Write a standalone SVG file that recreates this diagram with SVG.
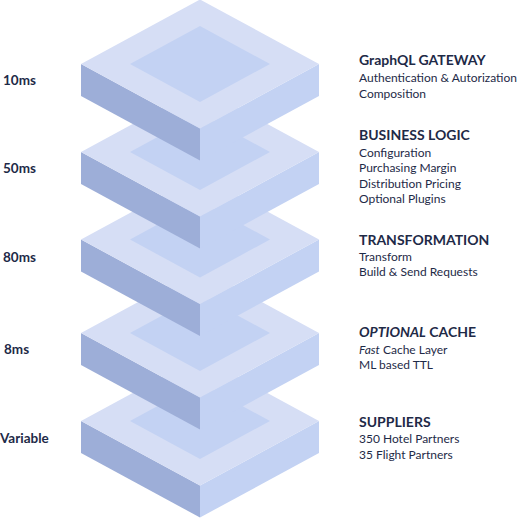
<svg xmlns="http://www.w3.org/2000/svg" xmlns:xlink="http://www.w3.org/1999/xlink" width="517" height="518" viewBox="0 0 517 518">
<style>
.ring{fill:#D6DEF5}
.inner{fill:#C3D2F3}
.left{fill:#9DAED8}
.right{fill:#C3D2F3}
text{font-family:Lato,"Noto Sans","Liberation Sans",sans-serif;fill:#1E2A47}
.t{font-size:14px;font-weight:700}
.s{font-size:12px}
.ms{font-size:13.5px;font-weight:700}
</style>
<defs>
<g id="slab">
<polygon class="left" points="81,0 200,64.5 200,96.5 81,32"/>
<polygon class="right" points="200,64.5 319,0 319,32 200,96.5"/>
<polygon class="ring" points="200,-64.5 319,0 200,64.5 81,0"/>
<polygon class="inner" points="200,-38 270,0 200,38 130,0"/>
</g>
</defs>
<rect width="517" height="518" fill="#FFFFFF"/>
<g id="suppliers">
<use xlink:href="#slab" href="#slab" y="421"/>
<text class="ms" x="0" y="443">Variable</text>
<text class="t" x="359" y="427">SUPPLIERS</text>
<text class="s" x="359" y="443">350 Hotel Partners</text>
<text class="s" x="359" y="459">35 Flight Partners</text>
</g>
<g id="cache">
<use xlink:href="#slab" href="#slab" y="333"/>
<text class="ms" x="4" y="354">8ms</text>
<text class="t" x="359" y="337"><tspan font-style="italic">OPTIONAL</tspan> CACHE</text>
<text class="s" x="359" y="354"><tspan font-style="italic">Fast</tspan> Cache Layer</text>
<text class="s" x="359" y="369">ML based TTL</text>
</g>
<g id="transformation">
<use xlink:href="#slab" href="#slab" y="239.5"/>
<text class="ms" x="3" y="262">80ms</text>
<text class="t" x="359" y="245">TRANSFORMATION</text>
<text class="s" x="359" y="261">Transform</text>
<text class="s" x="359" y="276">Build &amp; Send Requests</text>
</g>
<g id="business">
<use xlink:href="#slab" href="#slab" y="152"/>
<text class="ms" x="3" y="173">50ms</text>
<text class="t" x="359" y="140">BUSINESS LOGIC</text>
<text class="s" x="359" y="157">Configuration</text>
<text class="s" x="359" y="172">Purchasing Margin</text>
<text class="s" x="359" y="188">Distribution Pricing</text>
<text class="s" x="359" y="203">Optional Plugins</text>
</g>
<g id="gateway">
<use xlink:href="#slab" href="#slab" y="64"/>
<text class="ms" x="3" y="85">10ms</text>
<text class="t" x="359" y="65">GraphQL GATEWAY</text>
<text class="s" x="359" y="82">Authentication &amp; Autorization</text>
<text class="s" x="359" y="98">Composition</text>
</g>
<g id="connectors"/>
</svg>
